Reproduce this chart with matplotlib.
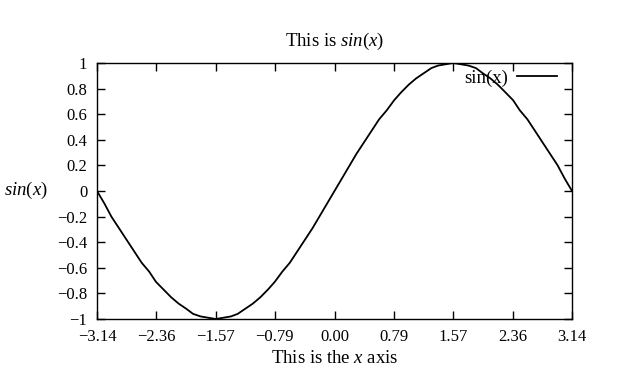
"""Recreate a gnuplot-style plot of sin(x) on [-pi, pi]."""

import matplotlib

matplotlib.use("Agg")
import matplotlib.pyplot as plt

# samples
X_VALUES = [
    -3.14, -3.04, -2.95, -2.85, -2.75, -2.65, -2.55, -2.45, -2.36, -2.26, -2.16,
    -2.06, -1.96, -1.87, -1.77, -1.67, -1.57, -1.47, -1.37, -1.28, -1.18, -1.08,
    -0.98, -0.88, -0.79, -0.69, -0.59, -0.49, -0.39, -0.29, -0.20, -0.10, 0.00,
    0.10, 0.20, 0.29, 0.39, 0.49, 0.59, 0.69, 0.79, 0.88, 0.98, 1.08,
    1.18, 1.28, 1.37, 1.47, 1.57, 1.67, 1.77, 1.87, 1.96, 2.06, 2.16,
    2.26, 2.36, 2.45, 2.55, 2.65, 2.75, 2.85, 2.95, 3.04, 3.14,
]
Y_VALUES = [
    0.00, -0.10, -0.20, -0.29, -0.38, -0.47, -0.56, -0.63, -0.71, -0.77, -0.83,
    -0.88, -0.92, -0.96, -0.98, -0.99, -1.00, -0.99, -0.98, -0.96, -0.92, -0.88,
    -0.83, -0.77, -0.71, -0.63, -0.56, -0.47, -0.38, -0.29, -0.20, -0.10, 0.00,
    0.10, 0.20, 0.29, 0.38, 0.47, 0.56, 0.63, 0.71, 0.77, 0.83, 0.88,
    0.92, 0.96, 0.98, 0.99, 1.00, 0.99, 0.98, 0.96, 0.92, 0.88, 0.83,
    0.77, 0.71, 0.63, 0.56, 0.47, 0.38, 0.29, 0.20, 0.10, 0.00,
]
X_TICKS = [-3.14, -2.36, -1.57, -0.79, 0.00, 0.79, 1.57, 2.36, 3.14]
X_TICK_LABELS = ["\u22123.14", "\u22122.36", "\u22121.57", "\u22120.79", "0.00",
                 "0.79", "1.57", "2.36", "3.14"]
Y_TICKS = [-1, -0.8, -0.6, -0.4, -0.2, 0, 0.2, 0.4, 0.6, 0.8, 1]
Y_TICK_LABELS = ["\u22121", "\u22120.8", "\u22120.6", "\u22120.4", "\u22120.2", "0",
                 "0.2", "0.4", "0.6", "0.8", "1"]

plt.rcParams.update(
    {
        "font.family": "Liberation Serif",
        "font.size": 12,
        "mathtext.fontset": "custom",
        "mathtext.rm": "Liberation Serif",
        "mathtext.it": "Liberation Serif:italic",
    }
)

fig = plt.figure(figsize=(6.17, 3.76), dpi=100)
ax = fig.add_axes([0.1572, 0.1516, 0.7699, 0.6809])

ax.plot(X_VALUES, Y_VALUES, color="black", linewidth=1.3, label="sin(x)")

ax.set_xlim(-3.14, 3.14)
ax.set_ylim(-1, 1)
ax.set_xticks(X_TICKS)
ax.set_xticklabels(X_TICK_LABELS)
ax.set_yticks(Y_TICKS)
ax.set_yticklabels(Y_TICK_LABELS)
ax.tick_params(direction="in", length=6, width=1, top=True, right=True,
               labelsize=12)
ax.tick_params(axis="x", pad=7)
ax.tick_params(axis="y", pad=7)
for spine in ax.spines.values():
    spine.set_linewidth(1)

ax.set_title(r"This is $sin(x)$", fontsize=13.5, pad=12)
ax.set_xlabel(r"This is the $x$ axis", fontsize=13.5, labelpad=4)
ax.set_ylabel(r"$sin(x)$", fontsize=13.5, rotation=0, ha="center", va="center")
ax.yaxis.set_label_coords(-0.149, 0.504)

ax.legend(
    frameon=False,
    markerfirst=False,
    loc="upper right",
    bbox_to_anchor=(0.995, 1.025),
    fontsize=13.5,
    handlelength=2.1,
    handletextpad=0.5,
    borderaxespad=0.3,
)

fig.savefig("out.png", dpi=100)
